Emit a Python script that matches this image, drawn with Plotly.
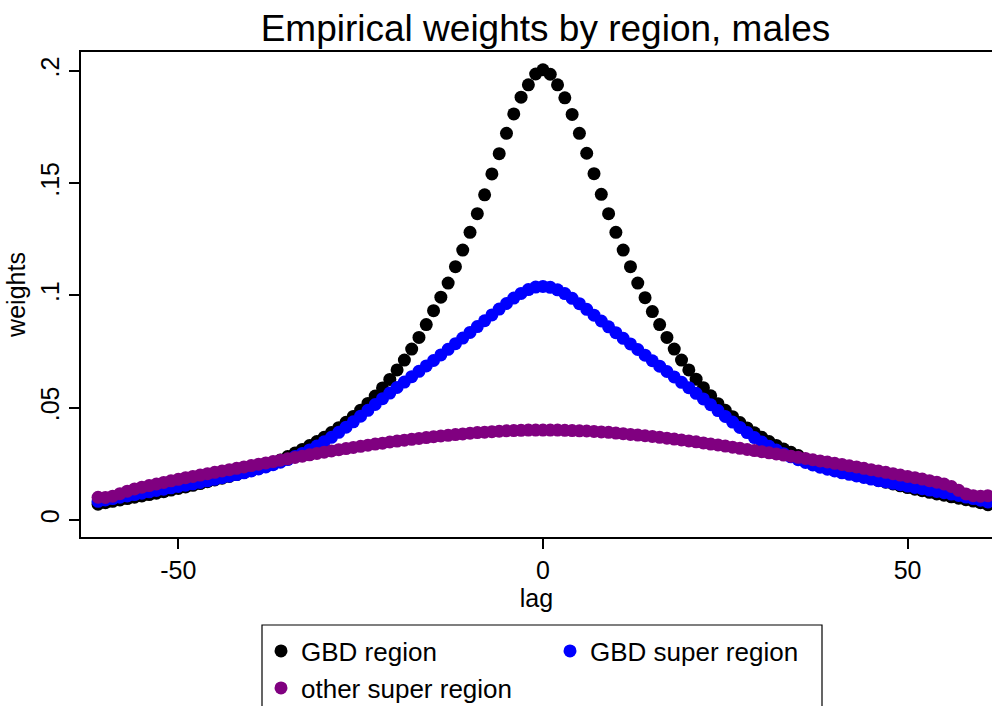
import plotly.graph_objects as go

lags = list(range(-61, 62))

gbd_region = [
    0.0070, 0.0077, 0.0083, 0.0089, 0.0095, 0.0101, 0.0107, 0.0113, 0.0119, 0.0126,
    0.0133, 0.0140, 0.0147, 0.0154, 0.0162, 0.0170, 0.0178, 0.0186, 0.0194, 0.0202,
    0.0211, 0.0220, 0.0230, 0.0241, 0.0253, 0.0267, 0.0282, 0.0298, 0.0314, 0.0331,
    0.0349, 0.0368, 0.0389, 0.0411, 0.0435, 0.0461, 0.0489, 0.0519, 0.0552, 0.0588,
    0.0626, 0.0668, 0.0712, 0.0761, 0.0813, 0.0870, 0.0932, 0.0992, 0.1055, 0.1128,
    0.1202, 0.1281, 0.1364, 0.1448, 0.1541, 0.1631, 0.1722, 0.1808, 0.1883, 0.1938,
    0.1986,
    0.2005,
    0.1985, 0.1938, 0.1880, 0.1806, 0.1722, 0.1633, 0.1542, 0.1450, 0.1364, 0.1281,
    0.1202, 0.1128, 0.1055, 0.0990, 0.0928, 0.0870, 0.0813, 0.0761, 0.0712, 0.0668,
    0.0627, 0.0589, 0.0553, 0.0518, 0.0488, 0.0460, 0.0434, 0.0410, 0.0388, 0.0368,
    0.0349, 0.0332, 0.0316, 0.0301, 0.0287, 0.0270, 0.0255, 0.0242, 0.0232, 0.0224,
    0.0216, 0.0208, 0.0200, 0.0192, 0.0184, 0.0176, 0.0168, 0.0160, 0.0152, 0.0144,
    0.0137, 0.0130, 0.0123, 0.0116, 0.0110, 0.0103, 0.0097, 0.0090, 0.0084, 0.0077,
    0.0068,
]

gbd_super_region = [
    0.0083, 0.0089, 0.0095, 0.0101, 0.0107, 0.0113, 0.0119, 0.0125, 0.0131, 0.0137,
    0.0143, 0.0149, 0.0155, 0.0161, 0.0167, 0.0174, 0.0181, 0.0188, 0.0195, 0.0202,
    0.0210, 0.0218, 0.0227, 0.0236, 0.0246, 0.0257, 0.0269, 0.0282, 0.0296, 0.0312,
    0.0329, 0.0348, 0.0368, 0.0390, 0.0413, 0.0437, 0.0462, 0.0488, 0.0514, 0.0540,
    0.0565, 0.0590, 0.0614, 0.0638, 0.0662, 0.0686, 0.0710, 0.0735, 0.0760, 0.0785,
    0.0810, 0.0835, 0.0861, 0.0887, 0.0913, 0.0939, 0.0964, 0.0988, 0.1009, 0.1026,
    0.1037,
    0.1040,
    0.1036, 0.1025, 0.1008, 0.0987, 0.0963, 0.0938, 0.0912, 0.0886, 0.0860, 0.0834,
    0.0809, 0.0784, 0.0759, 0.0734, 0.0709, 0.0685, 0.0661, 0.0637, 0.0613, 0.0589,
    0.0564, 0.0539, 0.0513, 0.0487, 0.0461, 0.0436, 0.0412, 0.0389, 0.0367, 0.0347,
    0.0328, 0.0311, 0.0295, 0.0281, 0.0268, 0.0256, 0.0245, 0.0235, 0.0226, 0.0218,
    0.0210, 0.0203, 0.0196, 0.0189, 0.0182, 0.0175, 0.0169, 0.0163, 0.0157, 0.0151,
    0.0145, 0.0139, 0.0133, 0.0127, 0.0121, 0.0115, 0.0109, 0.0102, 0.0095, 0.0088,
    0.0080,
]

other_super_region = [
    0.0101, 0.0100, 0.0106, 0.0117, 0.0128, 0.0138, 0.0146, 0.0153, 0.0160, 0.0167,
    0.0174, 0.0181, 0.0188, 0.0194, 0.0200, 0.0206, 0.0212, 0.0218, 0.0224, 0.0230,
    0.0236, 0.0242, 0.0248, 0.0254, 0.0260, 0.0266, 0.0272, 0.0278, 0.0284, 0.0290,
    0.0296, 0.0302, 0.0307, 0.0313, 0.0318, 0.0323, 0.0328, 0.0333, 0.0338, 0.0342,
    0.0347, 0.0351, 0.0355, 0.0359, 0.0363, 0.0367, 0.0371, 0.0374, 0.0377, 0.0380,
    0.0383, 0.0386, 0.0389, 0.0391, 0.0393, 0.0395, 0.0397, 0.0398, 0.0399, 0.0400,
    0.0400,
    0.0400,
    0.0400, 0.0400, 0.0399, 0.0398, 0.0397, 0.0396, 0.0394, 0.0392, 0.0390, 0.0387,
    0.0384, 0.0381, 0.0378, 0.0375, 0.0372, 0.0368, 0.0364, 0.0360, 0.0356, 0.0352,
    0.0348, 0.0343, 0.0338, 0.0334, 0.0329, 0.0324, 0.0319, 0.0314, 0.0309, 0.0304,
    0.0299, 0.0294, 0.0289, 0.0284, 0.0279, 0.0274, 0.0268, 0.0263, 0.0258, 0.0252,
    0.0247, 0.0241, 0.0236, 0.0230, 0.0224, 0.0218, 0.0212, 0.0206, 0.0200, 0.0194,
    0.0188, 0.0182, 0.0175, 0.0168, 0.0160, 0.0149, 0.0132, 0.0116, 0.0108, 0.0106,
    0.0108,
]

series_names = ["GBD region", "GBD super region", "other super region"]
series_colors = ["#000000", "#0000ff", "#800080"]
x_ticks = [-50, 0, 50]
x_tick_labels = ["-50", "0", "50"]
y_ticks = [0, 0.05, 0.1, 0.15, 0.2]
y_tick_labels = ["0", ".05", ".1", ".15", ".2"]

FONT = "Liberation Sans, Arial, Helvetica, sans-serif"
W, H = 992, 706
L, R, T, B = 81, 0, 52, 169
PW, PH = W - L - R, H - T - B


def px_x(p):
    return (p - L) / PW


def px_y(p):
    return (H - B - p) / PH


fig = go.Figure()
legend_ids = ["legend", "legend2", "legend3"]
for name, vals, col, lg in zip(series_names,
                               [gbd_region, gbd_super_region, other_super_region],
                               series_colors, legend_ids):
    fig.add_trace(go.Scatter(
        x=lags, y=vals, mode="markers", name=name, showlegend=True,
        marker=dict(color=col, size=13, line=dict(width=0)),
        legend=lg,
    ))

leg_common = dict(
    font=dict(family=FONT, size=26, color="black"),
    bgcolor="rgba(0,0,0,0)", borderwidth=0,
    xanchor="left", yanchor="middle", xref="paper", yref="paper",
    itemsizing="trace",
)

fig.update_layout(
    width=W, height=H, showlegend=True,
    margin=dict(l=L, r=R, t=T, b=B, pad=0, autoexpand=False),
    paper_bgcolor="white", plot_bgcolor="white",
    font=dict(family=FONT, color="black"),
    title=dict(text="Empirical weights by region, males",
               font=dict(family=FONT, size=37, color="black"),
               x=px_x(545.5), xref="paper", xanchor="center",
               y=1 - 28 / H, yref="container", yanchor="middle"),
    xaxis=dict(
        range=[-63.34, 61.57], tickmode="array", tickvals=x_ticks,
        ticktext=x_tick_labels, automargin=False,
        ticks="outside", ticklen=10, tickwidth=1.5, tickcolor="black",
        showline=True, linecolor="black", linewidth=1.5, mirror=True,
        showgrid=False, zeroline=False,
        tickfont=dict(family=FONT, size=25, color="black"),
        title=dict(text="lag", font=dict(family=FONT, size=25, color="black"), standoff=2),
    ),
    yaxis=dict(
        range=[-0.0076, 0.2084], tickmode="array", tickvals=y_ticks,
        ticktext=y_tick_labels, tickangle=-90, automargin=False,
        ticks="outside", ticklen=10, tickwidth=1.5, tickcolor="black",
        showline=True, linecolor="black", linewidth=1.5, mirror=False,
        showgrid=False, zeroline=False,
        tickfont=dict(family=FONT, size=25, color="black"),
        title=dict(text="weights", font=dict(family=FONT, size=25, color="black"), standoff=4),
    ),
    legend=dict(x=px_x(261), y=px_y(651), **leg_common),
    legend2=dict(x=px_x(550), y=px_y(651), **leg_common),
    legend3=dict(x=px_x(261), y=px_y(688), **leg_common),
    shapes=[dict(type="rect", xref="paper", yref="paper",
                 x0=px_x(262), x1=px_x(822), y0=px_y(625), y1=px_y(730),
                 line=dict(color="black", width=1.2), fillcolor="rgba(0,0,0,0)")],
)

fig.write_html("out.html", config={"displayModeBar": False},
               post_script="document.body.style.margin='0px';")
